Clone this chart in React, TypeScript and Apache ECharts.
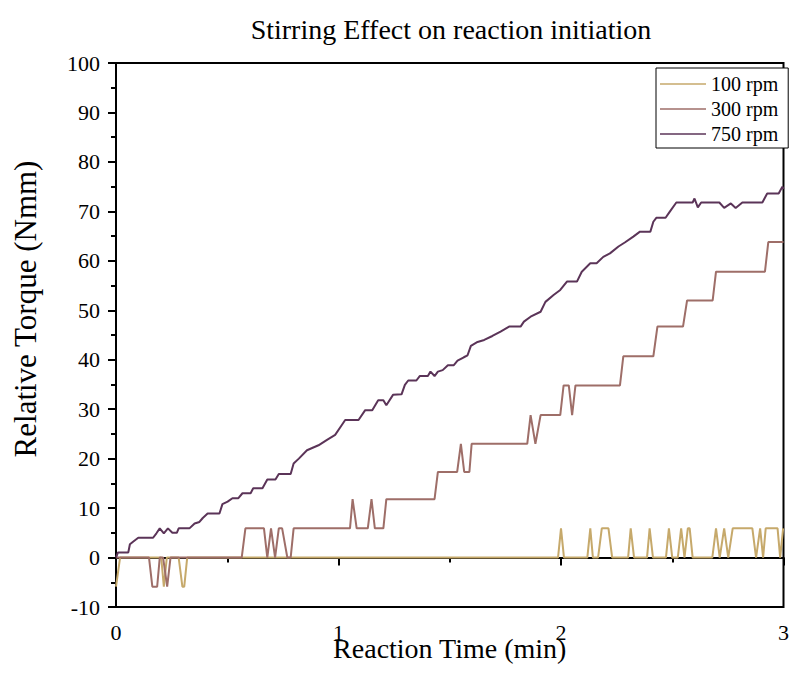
import React, { useEffect, useRef } from "react";
import * as echarts from "echarts";

// times in seconds, values in Nmm
const t100 = [0,1.1,12.2,12.9,13.7,16.9,17.9,18.4,19.2,119.2,120.0,120.8,127.1,127.9,128.6,130.0,131.0,132.8,133.8,138.1,138.8,139.7,143.2,143.9,144.8,148.3,149.1,150.0,151.5,152.4,153.3,154.2,154.7,155.5,160.8,161.8,162.8,164.0,165.1,166.3,171.6,172.6,173.7,174.5,175.2,178.4,179.1,179.9];
const v100 = [-5.9,0,0,-5.9,0,0,-5.9,-5.9,0,0,5.9,0,0,5.9,0,0,5.9,5.9,0,0,5.9,0,0,5.9,0,0,5.9,0,0,5.9,0,5.9,5.9,0,0,5.9,0,5.9,0,5.9,5.9,0,5.9,0,5.9,5.9,0,5.9];

const t300 = [0,8.9,9.8,11.1,11.8,12.7,13.8,14.7,33.9,34.9,39.9,40.8,41.8,42.9,43.9,44.8,46.2,47.1,47.9,63.1,63.8,64.9,67.9,68.9,69.8,72.1,72.9,85.9,86.8,92.0,93.0,93.9,95.3,95.9,110.9,111.8,113.1,114.5,119.8,120.7,122.1,123.0,123.9,135.9,136.8,144.9,146.0,152.9,154.0,160.9,161.8,175.0,175.9,180];
const v300 = [0,0,-5.9,-5.9,0,0,-5.9,0,0,5.9,5.9,0,5.9,0,5.9,5.9,0,0,5.9,5.9,11.8,5.9,5.9,11.8,5.9,5.9,11.8,11.8,17.3,17.3,23,17.3,17.3,23,23,28.8,23,28.8,28.8,34.8,34.8,28.8,34.8,34.8,40.7,40.7,46.7,46.7,52,52,57.8,57.8,63.8,63.8];

const t750 = [0,0.5,3.3,3.75,4.6,6.0,10.0,10.9,11.8,12.9,14.0,15.2,16.4,16.9,19.8,21.2,22.5,23.4,24.7,27.9,28.7,30.1,31.4,33.0,34.1,36.3,37.0,39.5,40.8,43.0,43.9,47.1,47.9,49.3,51.5,54.6,56.9,59.1,60.9,61.8,65.4,67.2,69.1,70.7,72.1,72.9,74.7,77.0,77.9,78.8,81.0,81.9,84.1,84.8,85.9,86.8,88.1,89.5,91.1,92.1,93.8,94.8,95.7,97.5,99.3,101.5,103.7,106.0,109.1,110.0,111.8,114.5,115.8,118.0,119.8,121.6,124.3,125.6,127.9,129.6,131.4,133.2,135.5,137.2,139.5,141.3,144.1,144.9,145.7,148.2,149.3,151.1,155.5,156.0,156.9,157.8,162.7,164.0,165.8,167.1,168.9,174.3,175.6,178.7,179.7,180];
const v750 = [0,1,1,2.7,3.2,4,4,4.9,5.9,4.9,5.9,5,5,5.9,5.9,6.9,7.2,8,8.9,8.9,10.8,11.3,12,12,13,13,14,14,15.8,15.8,16.9,16.9,19,20,21.7,22.7,23.8,24.8,26.8,27.8,27.8,29.8,29.8,31.8,31.8,30.8,32.9,33,34.9,35.8,35.8,36.7,36.7,37.6,36.7,37.6,37.9,38.9,38.9,39.8,40.5,40.9,42.8,43.6,44,44.8,45.7,46.7,46.7,47.7,48.7,49.7,51.7,53.1,54.1,55.8,55.8,57.8,59.5,59.5,60.8,61.5,62.9,63.7,64.9,65.9,65.9,67.9,68.7,68.7,69.9,71.8,71.8,72.6,70.8,71.8,71.8,70.7,71.6,70.7,71.8,71.8,73.6,73.6,75,74.5];

const seriesNames = ["100 rpm", "300 rpm", "750 rpm"];
const seriesColors = ["#C6A96B", "#9E6E68", "#5B3458"];

const FONT = "'Liberation Serif', 'Times New Roman', serif";

function toPairs(ts: number[], vs: number[]) {
  return ts.map((t, i) => [t / 60, vs[i]]);
}

export default function App() {
  const ref = useRef<HTMLDivElement>(null);
  useEffect(() => {
    if (!ref.current) return;
    const chart = echarts.init(ref.current, null, { renderer: "svg" });
    const datasets = [toPairs(t100, v100), toPairs(t300, v300), toPairs(t750, v750)];
    chart.setOption({
      animation: false,
      backgroundColor: "#fff",
      title: {
        text: "Stirring Effect on reaction initiation",
        left: 451,
        top: 15,
        padding: 0,
        textAlign: "center",
        textStyle: { fontFamily: FONT, fontSize: 28, fontWeight: "normal", color: "#000" },
      },
      legend: {
        data: seriesNames,
        orient: "vertical",
        left: 656,
        top: 68,
        padding: [6, 10, 4, 4],
        itemGap: 5,
        itemWidth: 46,
        itemHeight: 20,
        borderColor: "#000",
        borderWidth: 1,
        backgroundColor: "#fff",
        icon: "path://M0,9.2 L46,9.2 L46,10.8 L0,10.8 Z",
        textStyle: { fontFamily: FONT, fontSize: 20, color: "#000" },
      },
      grid: {
        left: 116,
        width: 672,
        top: 63,
        bottom: 82,
        show: true,
        borderColor: "#000",
        borderWidth: 2,
        backgroundColor: "transparent",
      },
      xAxis: {
        type: "value",
        min: 0,
        max: 3,
        interval: 1,
        name: "Reaction Time (min)",
        nameLocation: "middle",
        nameGap: 30,
        nameMoveOverlap: false,
        nameTextStyle: { fontFamily: FONT, fontSize: 28, color: "#000", lineHeight: 22 },
        axisLine: { show: true, lineStyle: { color: "#000", width: 2 } },
        axisTick: { show: true, length: 8, lineStyle: { color: "#000", width: 2 } },
        minorTick: { show: true, splitNumber: 2, length: 5, lineStyle: { color: "#000", width: 2 } },
        axisLabel: { fontFamily: FONT, fontSize: 22, color: "#000", margin: 18, lineHeight: 15 },
        splitLine: { show: false },
      },
      yAxis: {
        type: "value",
        min: -10,
        max: 100,
        interval: 10,
        name: "Relative Torque (Nmm)",
        nameLocation: "middle",
        nameGap: 75,
        nameMoveOverlap: false,
        nameTextStyle: { fontFamily: FONT, fontSize: 31, color: "#000", padding: [0, 0, 0, 52] },
        axisLine: { show: true, lineStyle: { color: "#000", width: 2 } },
        axisTick: { show: true, length: 8, lineStyle: { color: "#000", width: 2 } },
        minorTick: { show: true, splitNumber: 2, length: 5, lineStyle: { color: "#000", width: 2 } },
        axisLabel: { fontFamily: FONT, fontSize: 22, color: "#000", margin: 16 },
        splitLine: { show: false },
      },
      series: seriesNames.map((name, i) => ({
        name,
        type: "line",
        data: datasets[i],
        showSymbol: false,
        symbol: "none",
        color: seriesColors[i],
        lineStyle: { color: seriesColors[i], width: 2 },
        z: 2 + i,
      })),
    });
    return () => chart.dispose();
  }, []);
  return (
    <div
      ref={ref}
      style={{ position: "absolute", left: 0, top: 0, width: 792, height: 689 }}
    />
  );
}
